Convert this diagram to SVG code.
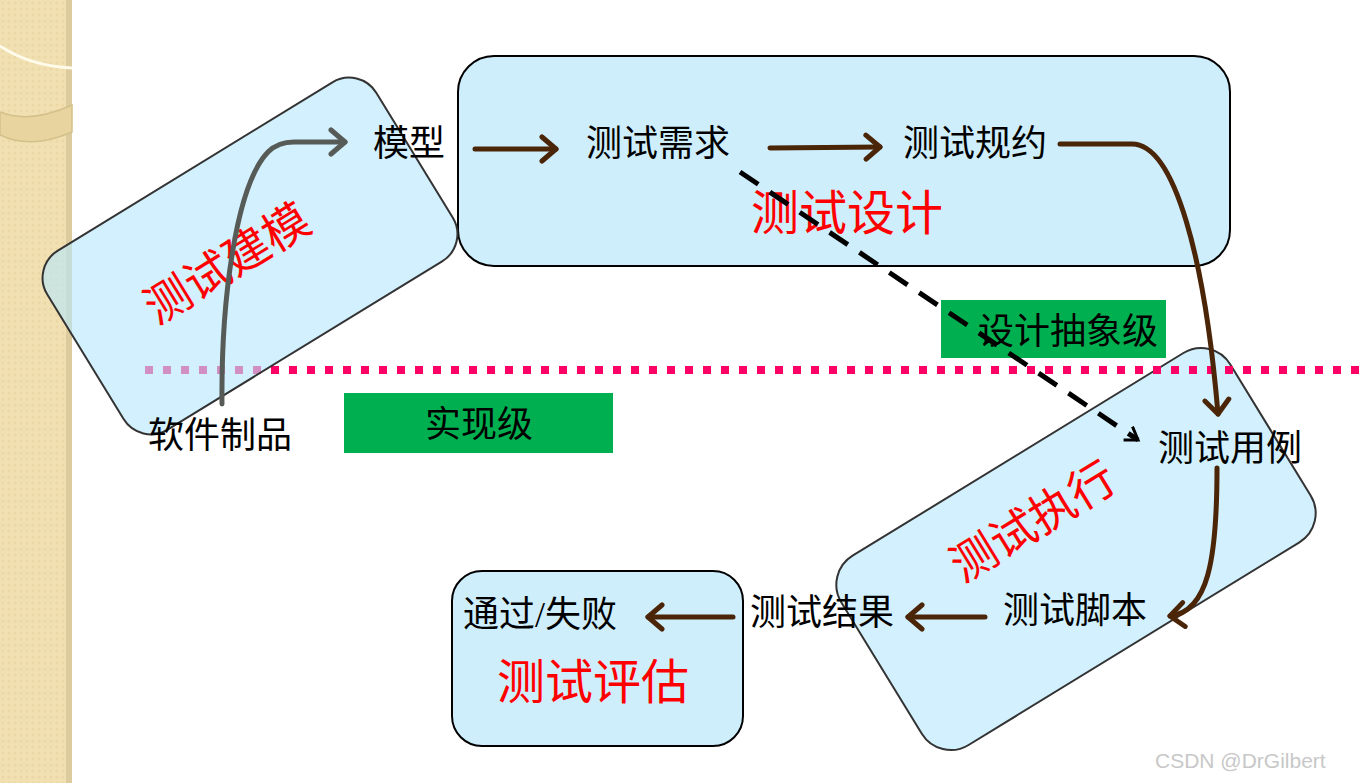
<svg xmlns="http://www.w3.org/2000/svg" width="1361" height="783" viewBox="0 0 1361 783">
<defs>
<style>
.t{font-family:"Liberation Serif","Noto Sans CJK SC",serif;font-size:36px;fill:#000;}
.r{font-family:"Liberation Serif","Noto Sans CJK SC",serif;font-size:48px;fill:#ff0000;}
.box{fill:#cfeefc;stroke:#000;stroke-width:2;}
.rbox{fill:#b6e6fb;fill-opacity:0.62;stroke:#333;stroke-width:2;}
.lvl{fill:#00b050;}
.br{fill:none;stroke:#4b2507;stroke-width:5;stroke-linecap:round;}
.gr{fill:none;stroke:#575b57;stroke-width:5;stroke-linecap:round;}
.ds{fill:none;stroke:#000;stroke-width:5;stroke-dasharray:22 14;}
</style>
<pattern id="tex" width="6" height="6" patternUnits="userSpaceOnUse">
<rect width="6" height="6" fill="#f1e0b1"/>
<circle cx="3" cy="3" r="1.5" fill="#ecd8a6"/>
</pattern>
<marker id="ahB" markerUnits="userSpaceOnUse" markerWidth="30" markerHeight="30" refX="22" refY="15" orient="auto" viewBox="0 0 30 30">
<path d="M8,3 L22,15 L8,27" fill="none" stroke="#4b2507" stroke-width="5" stroke-linecap="round" stroke-linejoin="round"/>
</marker>
<marker id="ahG" markerUnits="userSpaceOnUse" markerWidth="30" markerHeight="30" refX="22" refY="15" orient="auto" viewBox="0 0 30 30">
<path d="M8,3 L22,15 L8,27" fill="none" stroke="#575b57" stroke-width="5" stroke-linecap="round" stroke-linejoin="round"/>
</marker>
<marker id="ahK" markerUnits="userSpaceOnUse" markerWidth="24" markerHeight="24" refX="18" refY="12" orient="auto" viewBox="0 0 24 24">
<path d="M6,4 L18,12 L6,20" fill="none" stroke="#000" stroke-width="3" stroke-linejoin="miter"/>
</marker>
</defs>
<rect width="1361" height="783" fill="#fff"/>
<g id="sidebar">
<rect x="0" y="0" width="72" height="783" fill="url(#tex)"/>
<rect x="66" y="0" width="6" height="783" fill="#dccb9c"/>
<path d="M0,46 Q30,66 72,68" fill="none" stroke="#fffbea" stroke-width="3"/>
<path d="M0,112 Q30,124 72,105 L72,132 Q30,150 0,135 Z" fill="#e8d49e" stroke="#d4c08a" stroke-width="1.5"/>
</g>
<g id="design-box">
<rect class="box" x="458" y="56" width="772" height="210" rx="36"/>
<text class="r" x="751" y="230">测试设计</text>
</g>
<g id="exec-box">
<rect class="rbox" x="848" y="438" width="456" height="222" rx="34" transform="rotate(-31.5 1076 549)"/>
<text class="r" x="1032" y="538" text-anchor="middle" transform="rotate(-31.5 1032 520)" style="font-size:46px">测试执行</text>
</g>
<g id="eval-box">
<rect class="box" x="452" y="571" width="291" height="175" rx="30"/>
<text class="r" x="497" y="699">测试评估</text>
</g>
<g id="level-impl">
<rect class="lvl" x="344" y="393" width="269" height="60"/>
<text class="t" x="425" y="437">实现级</text>
</g>
<g id="level-design">
<rect class="lvl" x="941" y="300" width="225" height="58"/>
<text class="t" x="978" y="344">设计抽象级</text>
</g>
<g id="divider">
<line x1="145" y1="370" x2="1361" y2="370" stroke="#ff0066" stroke-width="8" stroke-dasharray="8 10"/>
</g>
<g id="model-box">
<rect class="rbox" x="57" y="151" width="386" height="210" rx="32" transform="rotate(-31.5 250 256)"/>
<text class="r" x="226" y="280" text-anchor="middle" transform="rotate(-31.5 226 262)" style="font-size:46px">测试建模</text>
</g>
<g id="n-model"><text class="t" x="373" y="156">模型</text></g>
<g id="n-req"><text class="t" x="586" y="156">测试需求</text></g>
<g id="n-spec"><text class="t" x="903" y="156">测试规约</text></g>
<g id="n-artifact"><text class="t" x="148" y="448">软件制品</text></g>
<g id="n-case"><text class="t" x="1158" y="461">测试用例</text></g>
<g id="n-script"><text class="t" x="1003" y="623">测试脚本</text></g>
<g id="n-result"><text class="t" x="750" y="625">测试结果</text></g>
<g id="n-passfail"><text class="t" x="463" y="627">通过/失败</text></g>
<g id="connectors">
<path class="gr" d="M222,404 C221,300 236,185 268,152 Q278,142 294,142 L345,142" marker-end="url(#ahG)"/>
<path class="br" d="M475,149 L556,149" marker-end="url(#ahB)"/>
<path class="br" d="M770,148 L880,147" marker-end="url(#ahB)"/>
<path class="br" d="M1060,144 L1132,144 C1175,144 1205,260 1218,414" marker-end="url(#ahB)"/>
<path class="br" d="M1217,468 C1217,560 1208,612 1170,616" marker-end="url(#ahB)"/>
<path class="br" d="M985,617 L908,617" marker-end="url(#ahB)"/>
<path class="br" d="M733,617 L648,617" marker-end="url(#ahB)"/>
<path class="ds" d="M740,172 L1138,440" marker-end="url(#ahK)"/>
</g>
<text x="1155" y="768" font-family="Liberation Sans, Arial, sans-serif" font-size="21" fill="#c8c8c8">CSDN @DrGilbert</text>
</svg>
